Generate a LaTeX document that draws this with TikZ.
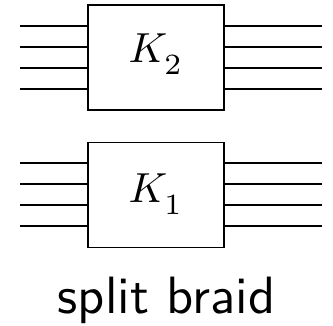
\documentclass[tikz,border=0pt]{standalone}
\usepackage{fontspec}
\usepackage{graphicx}
\usepackage{tikz}

\begin{document}
\begin{tikzpicture}[x=1pt, y=-1pt, line width=1.5pt,
    every node/.style={draw, inner sep=0pt},
    braidbox/.style={minimum width=136pt, minimum height=105pt}]
  \useasboundingbox (0,0) rectangle (333,325);
  % the two blocks
  \node (k2) at (156,57.5) [braidbox] {};
  \node (k1) at (156,195)  [braidbox] {};
  \node (k2lab) at (156,62) [draw=none, anchor=base] {\scalebox{4.2}{$K_{\lower1.4pt\hbox{$\scriptstyle 2$}}$}};
  \node (k1lab) at (156,202) [draw=none, anchor=base] {\scalebox{4.2}{$K_{\lower1.4pt\hbox{$\scriptstyle 1$}}$}};
  % four strands on each side
  \foreach \i/\y in {1/26, 2/47, 3/68, 4/89} {
    \coordinate (tl\i) at (20,\y);  \coordinate (tr\i) at (322,\y);
    \draw (tl\i) -- (k2.west |- tl\i);  \draw (k2.east |- tr\i) -- (tr\i);
  }
  \foreach \i/\y in {1/163, 2/184, 3/205, 4/226} {
    \coordinate (bl\i) at (20,\y);  \coordinate (br\i) at (322,\y);
    \draw (bl\i) -- (k1.west |- bl\i);  \draw (k1.east |- br\i) -- (br\i);
  }
  \node (cap) at (166.5,313) [draw=none, anchor=base] {\scalebox{5.25}{\sffamily split braid}};
\end{tikzpicture}
\end{document}
